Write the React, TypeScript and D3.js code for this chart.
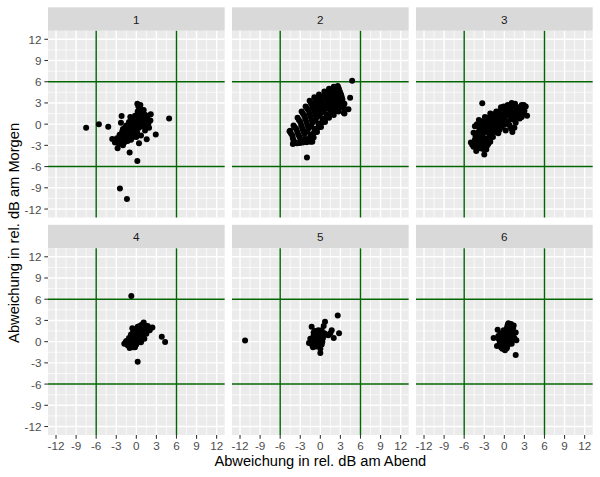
import * as d3 from "d3";

// facet labels
const facets = ["1", "2", "3", "4", "5", "6"];

// Abweichung am Abend (x) / am Morgen (y), one list per facet
const gruppe1: [number, number][] = [
  [-7.5, -0.5], [-5.6, 0], [-4.2, -0.35], [-2.45, -9.1], [-1.4, -10.6], [0.15, -5.2],
  [-1.0, -4.0], [4.9, 0.8], [2.9, -1.45], [2.15, 1.4], [0.15, 2.9], [0.6, 2.7],
  [0.4, -2.7], [-3.6, -2.1], [-2.8, -3.4], [-2.3, 0.2], [-2.2, 1.15], [1.55, -2.15],
  [-3.2, -2.6], [-2.9, -2.0], [-2.6, -2.8], [-2.5, -1.5], [-2.3, -2.3], [-2.1, -1.0],
  [-2.0, -1.9], [-1.8, -2.6], [-1.7, -0.5], [-1.6, -1.4], [-1.5, -2.1], [-1.3, -0.9],
  [-1.2, -1.7], [-1.1, 0.3], [-1.0, -0.3], [-0.9, -1.2], [-0.8, -2.2], [-0.7, 0.8],
  [-0.6, -0.6], [-0.5, -1.5], [-0.4, 0.2], [-0.3, -0.9], [-0.2, 1.2], [-0.1, -0.2],
  [0, 0.6], [0.1, -1.1], [0.2, 1.8], [0.3, 0.1], [0.4, -0.5], [0.5, 1.0],
  [0.6, 2.2], [0.7, -1.6], [0.8, 0.4], [0.9, 1.5], [1.0, -0.3], [1.2, 0.8],
  [1.3, -0.9], [1.5, 0.3], [1.7, 1.2], [1.9, -0.5], [2.1, 0.5], [-0.5, 0.5],
  [-1.5, -0.2], [0.3, 2.5], [-0.9, 1.0], [0, -1.8], [-2.0, -3.0], [1.1, 2.0],
  [-2.7, -2.3], [-2.4, -1.9], [-2.2, -1.4], [-1.9, -1.5], [-1.7, -2.0], [-1.4, -1.1],
  [-1.1, -1.3], [-1.0, -0.7], [-0.8, -0.9], [-0.7, -0.1], [-0.5, -0.3], [-0.4, -1.1],
  [-0.3, 0.5], [-0.1, 0.2], [0, 1.0], [0.1, -0.5], [0.2, 0.9], [0.3, -0.2],
  [0.5, 0.4], [0.6, 1.6], [0.7, 0], [0.8, 1.1], [1.0, 0.5], [1.2, 1.4],
  [1.4, -0.3], [1.6, 0.7], [-1.3, -2.4], [-0.6, -1.9], [-2.0, -0.7], [0.4, 1.3],
  [-0.2, -1.5], [1.8, 0.1],
];

const gruppe2: [number, number][] = [
  [4.75, 6.15], [4.45, 3.75], [4.2, 2.1], [3.6, 1.5], [-2.0, -4.7], [-4.5, -0.95],
  [-4.6, -1.0], [-4.0, -0.2], [-3.4, 0.9], [-2.8, 1.8], [-2.2, 2.5], [-1.6, 3.3],
  [-0.9, 3.8], [-0.2, 4.2], [0.6, 4.6], [1.3, 5.0], [2.0, 5.3], [2.6, 5.4],
  [-4.2, -1.6], [-3.6, -0.7], [-3.0, 0.3], [-2.4, 1.2], [-1.8, 2.0], [-1.2, 2.6],
  [-0.6, 3.1], [0, 3.5], [0.7, 3.9], [1.4, 4.3], [2.1, 4.6], [2.8, 4.9],
  [-4.0, -2.4], [-3.3, -1.5], [-2.7, -0.6], [-2.1, 0.3], [-1.5, 1.1], [-0.9, 1.8],
  [-0.3, 2.4], [0.3, 2.8], [1.0, 3.3], [1.7, 3.7], [2.4, 4.0], [3.1, 4.2],
  [-3.5, -2.7], [-2.9, -2.2], [-2.4, -1.4], [-1.8, -0.6], [-1.2, 0.2], [-0.6, 0.9],
  [0, 1.5], [0.6, 2.1], [1.2, 2.6], [1.9, 3.0], [2.6, 3.3], [3.3, 3.5],
  [-2.6, -2.6], [-2.0, -2.1], [-1.5, -1.5], [-0.9, -0.7], [-0.3, 0.1], [0.3, 0.8],
  [0.9, 1.4], [1.5, 1.9], [2.2, 2.3], [2.9, 2.6], [3.6, 2.9],
  [-1.5, -2.5], [-1.0, -1.9], [-0.5, -1.1], [0.1, -0.4], [0.7, 0.3], [1.3, 0.9],
  [2.0, 1.3], [2.7, 1.8], [3.5, 1.6], [-4.1, -2.8], [-1.2, -2.5],
  [-4.4, -1.3], [-3.8, -0.45], [-3.2, 0.6], [-2.6, 1.5], [-2.0, 2.25], [-1.4, 2.95],
  [-0.75, 3.45], [-0.1, 3.85], [0.65, 4.25], [1.35, 4.65], [2.05, 4.95], [2.7, 5.15],
  [-4.1, -2.0], [-3.45, -1.1], [-2.85, -0.15], [-2.25, 0.75], [-1.65, 1.55], [-1.05, 2.2],
  [-0.45, 2.75], [0.15, 3.15], [0.85, 3.6], [1.55, 4.0], [2.25, 4.3], [2.95, 4.55],
  [-3.75, -2.55], [-3.1, -1.85], [-2.55, -1.0], [-1.95, -0.15], [-1.35, 0.65], [-0.75, 1.35],
  [-0.15, 1.95], [0.45, 2.45], [1.1, 2.95], [1.8, 3.35], [2.5, 3.65], [3.2, 3.85],
  [-3.05, -2.65], [-2.45, -2.15], [-1.95, -1.0], [-1.35, -0.25], [-0.75, 0.5], [-0.15, 1.2],
  [0.45, 1.75], [1.05, 2.25], [1.7, 2.65], [2.4, 2.95], [3.1, 3.2],
  [-2.05, -2.55], [-1.5, -2.0], [-1.0, -1.3], [-0.4, -0.55], [0.2, 0.2], [0.8, 0.85],
  [1.4, 1.4], [2.1, 1.8], [2.8, 2.2], [3.55, 2.25],
];

const gruppe3: [number, number][] = [
  [-5.0, -2.6], [-4.6, -3.2], [-4.2, -3.8], [-3.6, -3.4], [-3.0, -4.3], [-2.7, -3.6],
  [-3.3, -2.7], [-4.4, -2.2], [-3.9, -2.6], [-2.4, -2.8], [-2.1, -2.5], [-2.9, -2.0],
  [-4.6, -1.2], [-4.4, -0.3], [-4.1, -1.6], [-3.8, 0.6], [-3.6, -0.8], [-3.3, -1.5],
  [-3.1, 0.1], [-2.9, 1.0], [-2.7, -0.5], [-2.5, -1.2], [-2.3, 0.6], [-2.1, 1.5],
  [-1.9, -0.1], [-1.7, -1.8], [-1.6, 0.9], [-1.4, -0.7], [-1.2, 1.8], [-1.0, 0.2],
  [-0.9, -1.3], [-0.7, 1.2], [-0.5, 2.4], [-0.4, -0.4], [-0.2, 0.8], [0, 1.9],
  [0.2, -0.9], [0.3, 0.3], [0.5, 2.7], [0.6, 1.3], [0.8, -0.2], [1.0, 2.2],
  [1.1, 0.7], [1.2, -1.1], [1.4, 1.6], [1.6, 2.9], [1.7, 0.2], [1.9, 1.2],
  [2.1, 2.4], [2.3, 0.8], [2.6, 2.7], [3.0, 1.9], [3.4, 1.2], [3.2, 2.5],
  [2.8, 1.5], [-3.3, 2.95], [-2.2, -1.8], [-1.2, -0.2], [0, -0.1], [-0.8, 0.6],
  [0.4, 1.7], [-1.8, 0.4], [-2.6, 0.2], [-3.5, -0.1], [1.5, -0.5], [1.1, 3.0],
  [-4.8, -2.9], [-4.4, -2.7], [-4.0, -3.2], [-3.7, -2.9], [-3.2, -3.5], [-3.0, -3.0],
  [-2.6, -3.1], [-2.5, -2.2], [-3.0, -2.4], [-3.6, -2.2], [-4.0, -2.0], [-4.3, -1.7],
  [-3.9, -1.1], [-3.5, -1.3], [-3.0, -1.0], [-3.1, -0.4], [-3.8, -0.4], [-4.1, 0],
  [-3.4, 0.4], [-2.9, 0.4], [-2.5, 0.9], [-2.4, -0.1], [-2.0, -0.6], [-2.0, 0.9],
  [-1.6, 1.4], [-1.5, 0.1], [-1.3, 0.6], [-1.0, 1.2], [-0.8, 1.8], [-0.6, -0.1],
  [-0.5, 0.3], [-0.3, 1.3], [-0.1, 2.5], [0.1, 0.6], [0.2, 1.3], [0.4, 2.2],
  [0.6, 0.1], [0.8, 1.7], [0.9, 0.9], [1.2, 2.6], [1.3, 1.1], [1.5, 0.6],
  [1.8, 2.2], [2.0, 1.7], [2.2, 1.3], [2.5, 2.1], [2.6, 1.0], [1.0, -0.6],
  [-2.2, -1.3], [-1.8, -1.1], [-1.3, -1.1], [-0.7, -0.8], [2.9, 2.7],
];

const gruppe4: [number, number][] = [
  [-0.75, 6.45], [0.2, -2.85], [3.8, 0.7], [4.3, -0.05],
  [-1.8, -0.3], [-1.5, 0.1], [-1.3, -0.5], [-1.1, 0.5], [-0.9, -0.2], [-0.8, 1.0],
  [-0.6, 1.9], [-0.5, -0.8], [-0.4, 0.4], [-0.2, 1.4], [0, -0.4], [0.1, 0.8],
  [0.2, 2.1], [0.4, 0.2], [0.5, 1.5], [0.7, -0.1], [0.8, 2.4], [0.9, 1.0],
  [1.1, 2.7], [1.2, 0.4], [1.3, 1.8], [1.5, 1.1], [1.7, 2.2], [2.0, 1.6],
  [2.4, 2.0], [-0.6, 0.7], [0.3, 1.2], [-1.0, -0.9], [0.6, 0.6], [1.0, 1.5],
  [-0.3, -0.3], [-1.6, -0.1], [-1.2, 0], [-0.9, 0.3], [-0.7, -0.5], [-0.5, 1.3],
  [-0.3, 0.9], [-0.1, 0.1], [0.1, 1.8], [0.2, -0.1], [0.4, 0.7], [0.5, 2.2],
  [0.7, 1.2], [0.9, 1.9], [1.0, 0.7], [1.3, 1.3], [1.4, 2.2], [1.8, 1.8],
  [0.6, 0.2], [-0.8, 0.7], [-0.2, -0.8],
];

const gruppe5: [number, number][] = [
  [-11.25, 0.15], [2.6, 3.7], [2.8, 1.2],
  [-1.7, -0.2], [-1.5, 0.4], [-1.3, 2.1], [-1.2, -0.5], [-1.0, 0.9], [-0.9, 0],
  [-0.8, 1.5], [-0.6, -0.7], [-0.5, 0.5], [-0.4, 1.1], [-0.3, -0.2], [-0.2, 0.3],
  [0, -1.0], [0, -1.6], [0.1, 0.8], [0.2, 1.6], [0.3, 0], [0.5, 2.2],
  [0.7, 2.8], [0.6, 1.2], [1.2, 0.9], [1.7, 1.6], [2.0, 0.5], [-0.7, 0.1],
  [-1.1, -0.8], [0.4, 0.5], [-1.4, 0], [-1.2, 0.4], [-1.0, 1.3], [-0.8, 0.5],
  [-0.6, 0.8], [-0.4, 0], [-0.2, 0.8], [-0.1, -0.6], [0.1, 0.2], [0.3, 1.1],
  [0.2, -0.4], [-0.3, 1.6], [-0.7, -0.4], [0, 1.3], [0.9, 1.0], [1.5, 1.2],
];

const gruppe6: [number, number][] = [
  [-1.6, 0.5], [-1.0, 1.7], [-1.1, -0.6], [-0.8, 0.3], [-0.6, 1.1], [-0.5, -0.8],
  [-0.4, 0], [-0.2, 0.8], [-0.1, 1.6], [0, -0.4], [0.1, -1.2], [0.2, 0.4],
  [0.3, 1.2], [0.4, 2.0], [0.5, -0.5], [0.6, 2.6], [0.7, 0.9], [0.8, 0.1],
  [0.9, 1.6], [1.0, 2.5], [1.1, -0.3], [1.2, 1.0], [1.3, 1.9], [1.5, 0.5],
  [1.7, 1.3], [1.8, 0.2], [1.7, -1.9], [-0.3, -1.0], [0.4, -0.9], [1.4, 2.3],
  [-0.7, -0.3], [-0.9, 0.8], [-0.6, 0.5], [-0.3, 0.4], [-0.2, 1.3], [0, 0.9],
  [0.1, 0], [0.3, 0.6], [0.5, 1.5], [0.6, 0.3], [0.7, 1.9], [0.8, 2.2],
  [0.9, 0.6], [1.0, 1.1], [1.1, 1.6], [1.2, 0.3], [0.2, -0.7], [-0.4, -0.5],
  [1.4, 1.2], [0.5, 2.4],
];

const gruppen = [gruppe1, gruppe2, gruppe3, gruppe4, gruppe5, gruppe6];

const tickValues = [-12, -9, -6, -3, 0, 3, 6, 9, 12];
const minorValues = [-10.5, -7.5, -4.5, -1.5, 1.5, 4.5, 7.5, 10.5];
const grenzen = [-6, 6];

export default function App() {
  const width = 600;
  const height = 477;
  const pad = 7.33;
  const left = 48;
  const top = pad;
  const stripH = 23.47;
  const panelBottom = 435;
  const panelW = (width - left - pad - 2 * pad) / 3;
  const panelH = (panelBottom - top - pad - 2 * stripH) / 2;

  const x = d3.scaleLinear().domain([-13.2, 13.2]).range([0, panelW]);
  const y = d3.scaleLinear().domain([-13.2, 13.2]).range([panelH, 0]);

  const font = "'Liberation Sans', Arial, Helvetica, sans-serif";

  return (
    <svg
      width={width}
      height={height}
      style={{ position: "absolute", left: 0, top: 0, background: "#fff" }}
      fontFamily={font}
    >
      <rect width={width} height={height} fill="#fff" />
      {gruppen.map((pts, i) => {
        const col = i % 3;
        const row = Math.floor(i / 3);
        const px = left + col * (panelW + pad);
        const sy = top + row * (stripH + panelH + pad);
        const py = sy + stripH;
        return (
          <g key={i}>
            {/* strip */}
            <rect x={px} y={sy} width={panelW} height={stripH} fill="#D9D9D9" />
            <text
              x={px + panelW / 2}
              y={sy + stripH / 2}
              textAnchor="middle"
              dominantBaseline="central"
              fontSize={11.7}
              fill="#1A1A1A"
            >
              {facets[i]}
            </text>
            <g transform={`translate(${px},${py})`}>
              <rect width={panelW} height={panelH} fill="#EBEBEB" />
              {minorValues.map((v) => (
                <g key={"m" + v}>
                  <line x1={x(v)} x2={x(v)} y1={0} y2={panelH} stroke="#fff" strokeWidth={0.71} />
                  <line x1={0} x2={panelW} y1={y(v)} y2={y(v)} stroke="#fff" strokeWidth={0.71} />
                </g>
              ))}
              {tickValues.map((v) => (
                <g key={"t" + v}>
                  <line x1={x(v)} x2={x(v)} y1={0} y2={panelH} stroke="#fff" strokeWidth={1.42} />
                  <line x1={0} x2={panelW} y1={y(v)} y2={y(v)} stroke="#fff" strokeWidth={1.42} />
                </g>
              ))}
              {grenzen.map((v) => (
                <g key={"g" + v}>
                  <line x1={x(v)} x2={x(v)} y1={0} y2={panelH} stroke="#006400" strokeWidth={1.42} />
                  <line x1={0} x2={panelW} y1={y(v)} y2={y(v)} stroke="#006400" strokeWidth={1.42} />
                </g>
              ))}
              {pts.map((d, j) => (
                <circle key={j} cx={x(d[0])} cy={y(d[1])} r={3} fill="#000" />
              ))}
              {col === 0 &&
                tickValues.map((v) => (
                  <g key={"yt" + v}>
                    <line x1={-3.67} x2={0} y1={y(v)} y2={y(v)} stroke="#333333" strokeWidth={1.07} />
                    <text
                      x={-6.6}
                      y={y(v)}
                      textAnchor="end"
                      dominantBaseline="central"
                      fontSize={11.7}
                      fill="#4D4D4D"
                    >
                      {v}
                    </text>
                  </g>
                ))}
              {row === 1 &&
                tickValues.map((v) => (
                  <g key={"xt" + v}>
                    <line x1={x(v)} x2={x(v)} y1={panelH} y2={panelH + 3.67} stroke="#333333" strokeWidth={1.07} />
                    <text
                      x={x(v)}
                      y={panelH + 6.6}
                      textAnchor="middle"
                      dominantBaseline="hanging"
                      fontSize={11.7}
                      fill="#4D4D4D"
                    >
                      {v}
                    </text>
                  </g>
                ))}
            </g>
          </g>
        );
      })}
      <text
        x={left + (width - pad - left) / 2}
        y={466}
        textAnchor="middle"
        fontSize={14.67}
        fill="#000"
      >
        Abweichung in rel. dB am Abend
      </text>
      <text
        transform={`translate(18.5,${(top + stripH + panelBottom) / 2}) rotate(-90)`}
        textAnchor="middle"
        fontSize={14.67}
        fill="#000"
      >
        Abweichung in rel. dB am Morgen
      </text>
    </svg>
  );
}
